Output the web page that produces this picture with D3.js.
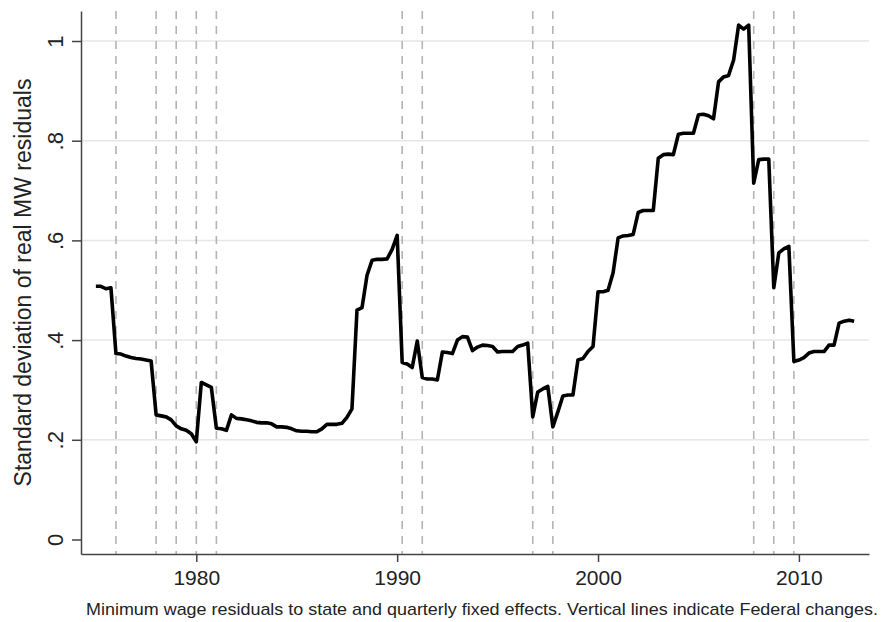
<!DOCTYPE html>
<html>
<head>
<meta charset="utf-8">
<script src="https://cdn.jsdelivr.net/npm/d3@7"></script>
<style>
  html, body { margin: 0; padding: 0; background: #fff; }
  svg { display: block; font-family: "Liberation Sans", Arial, Helvetica, sans-serif; }
</style>
</head>
<body>
<svg id="chart" width="885" height="622"></svg>
<script>
// Years covered and the four quarterly readings for each year
const years = [1975, 1976, 1977, 1978, 1979, 1980, 1981, 1982, 1983, 1984,
               1985, 1986, 1987, 1988, 1989, 1990, 1991, 1992, 1993, 1994,
               1995, 1996, 1997, 1998, 1999, 2000, 2001, 2002, 2003, 2004,
               2005, 2006, 2007, 2008, 2009, 2010, 2011, 2012];

const sdQuarterly = [
  [0.508, 0.508, 0.503, 0.505],
  [0.373, 0.372, 0.368, 0.365],
  [0.363, 0.362, 0.360, 0.358],
  [0.250, 0.248, 0.246, 0.240],
  [0.228, 0.222, 0.219, 0.212],
  [0.196, 0.315, 0.310, 0.305],
  [0.223, 0.222, 0.219, 0.250],
  [0.243, 0.242, 0.240, 0.238],
  [0.235, 0.234, 0.234, 0.232],
  [0.226, 0.226, 0.225, 0.222],
  [0.218, 0.217, 0.217, 0.216],
  [0.216, 0.222, 0.231, 0.231],
  [0.231, 0.233, 0.245, 0.262],
  [0.460, 0.465, 0.530, 0.560],
  [0.562, 0.562, 0.563, 0.582],
  [0.610, 0.355, 0.352, 0.345],
  [0.398, 0.325, 0.322, 0.322],
  [0.320, 0.376, 0.375, 0.373],
  [0.400, 0.407, 0.406, 0.379],
  [0.386, 0.390, 0.389, 0.387],
  [0.376, 0.377, 0.377, 0.377],
  [0.387, 0.390, 0.394, 0.246],
  [0.296, 0.302, 0.307, 0.226],
  [0.256, 0.288, 0.290, 0.290],
  [0.360, 0.363, 0.377, 0.387],
  [0.497, 0.497, 0.500, 0.535],
  [0.605, 0.609, 0.610, 0.612],
  [0.656, 0.660, 0.660, 0.660],
  [0.765, 0.772, 0.773, 0.772],
  [0.813, 0.815, 0.815, 0.815],
  [0.852, 0.853, 0.850, 0.844],
  [0.918, 0.928, 0.931, 0.962],
  [1.032, 1.024, 1.032, 0.715],
  [0.762, 0.763, 0.763, 0.505],
  [0.575, 0.583, 0.588, 0.357],
  [0.360, 0.365, 0.374, 0.377],
  [0.377, 0.377, 0.390, 0.390],
  [0.434, 0.438, 0.440, 0.438]
];

// Dates of Federal minimum wage changes (fractional years)
const federalChanges = [1976.0, 1978.0, 1979.0, 1980.0, 1981.0, 1990.25, 1991.25,
                        1996.75, 1997.75, 2007.75, 2008.75, 2009.75];

const xTicks = [1980, 1990, 2000, 2010];
const yTicks = [0, 0.2, 0.4, 0.6, 0.8, 1];
const yGrid = [0.2, 0.4, 0.6, 0.8, 1];

const yTitle = "Standard deviation of real MW residuals";
const caption = "Minimum wage residuals to state and quarterly fixed effects. Vertical lines indicate Federal changes.";

// Flatten to one point per quarter
const series = [];
years.forEach((yr, i) => {
  sdQuarterly[i].forEach((v, q) => series.push({ t: yr + q / 4, v: v }));
});

const svg = d3.select("#chart");
const plot = { left: 81, right: 869, top: 11, bottom: 554 };

const x = d3.scaleLinear().domain([1974.26, 2013.49]).range([plot.left, plot.right]);
const y = d3.scaleLinear().domain([-0.0291, 1.0602]).range([plot.bottom, plot.top]);

svg.append("rect").attr("width", 885).attr("height", 622).attr("fill", "#fff");

// Horizontal grid
svg.append("g").selectAll("line").data(yGrid).join("line")
  .attr("x1", plot.left).attr("x2", plot.right)
  .attr("y1", d => y(d)).attr("y2", d => y(d))
  .attr("stroke", "#e6e6e6").attr("stroke-width", 1.5);

// Federal change markers
svg.append("g").selectAll("line").data(federalChanges).join("line")
  .attr("x1", d => x(d)).attr("x2", d => x(d))
  .attr("y1", plot.top).attr("y2", plot.bottom)
  .attr("stroke", "#b4b4b4").attr("stroke-width", 1.6)
  .attr("stroke-dasharray", "8,7");

// Y axis
const yAxis = svg.append("g")
  .attr("transform", `translate(${plot.left},0)`)
  .call(d3.axisLeft(y).tickValues(yTicks).tickSize(9).tickSizeOuter(0)
    .tickFormat(d => d === 0 ? "0" : d === 1 ? "1" : d3.format(".1f")(d).replace(/^0/, "")));
yAxis.select(".domain").attr("stroke", "#444").attr("stroke-width", 1.5);
yAxis.selectAll(".tick line").attr("stroke", "#444").attr("stroke-width", 1.5);
yAxis.selectAll(".tick text")
  .attr("x", null).attr("dy", null)
  .attr("text-anchor", "middle")
  .attr("transform", "translate(-18,0) rotate(-90)")
  .attr("fill", "#222").style("font-size", "22px");

// X axis
const xAxis = svg.append("g")
  .attr("transform", `translate(0,${plot.bottom})`)
  .call(d3.axisBottom(x).tickValues(xTicks).tickSize(8).tickSizeOuter(0).tickFormat(d3.format("d")));
xAxis.select(".domain").attr("stroke", "#444").attr("stroke-width", 1.5);
xAxis.selectAll(".tick line").attr("stroke", "#444").attr("stroke-width", 1.5);
xAxis.selectAll(".tick text")
  .attr("y", 31).attr("dy", null)
  .attr("fill", "#222").style("font-size", "21px");

// Series line
svg.append("path").datum(series)
  .attr("fill", "none").attr("stroke", "#000").attr("stroke-width", 3.6)
  .attr("stroke-linejoin", "round").attr("stroke-linecap", "butt")
  .attr("d", d3.line().x(d => x(d.t)).y(d => y(d.v)));

// Axis title
svg.append("text")
  .attr("transform", `translate(31,${(plot.top + plot.bottom) / 2}) rotate(-90)`)
  .attr("text-anchor", "middle")
  .attr("fill", "#222").style("font-size", "23px")
  .text(yTitle);

// Note below the chart
svg.append("text")
  .attr("x", 86).attr("y", 615)
  .attr("fill", "#222").style("font-size", "17px")
  .attr("textLength", 792).attr("lengthAdjust", "spacingAndGlyphs")
  .text(caption);
</script>
</body>
</html>
